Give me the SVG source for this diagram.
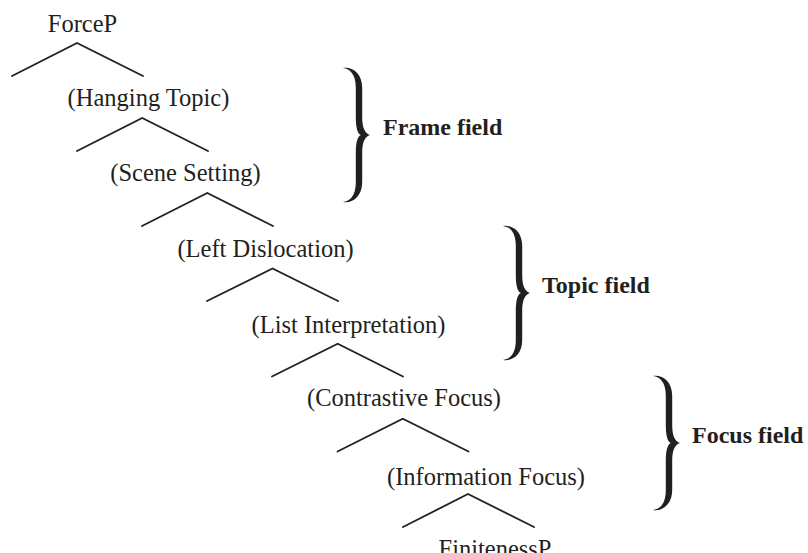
<svg xmlns="http://www.w3.org/2000/svg" width="808" height="553" viewBox="0 0 808 553">
<style>
.lbl{font-family:"Liberation Serif","Times New Roman",serif;font-size:24.5px;fill:#231f20;text-anchor:middle}
.fld{font-family:"Liberation Serif","Times New Roman",serif;font-size:24px;font-weight:bold;fill:#231f20}
.br{stroke:#231f20;stroke-width:1.8;fill:none;stroke-linecap:round;stroke-linejoin:miter}
.brace{fill:#231f20}
</style>
<defs>
<path id="brace" class="brace" d="M0,0 C9,-1.5 19.2,5 19.2,20 L19.2,49 C19.2,60 22,65.5 27,67 C22,68.5 19.2,74 19.2,85 L19.2,114 C19.2,129 9,135.5 0,134 C7,133 12.8,128 12.8,114 L12.8,85 C12.8,73 15,68 18,67 C15,66 12.8,61 12.8,49 L12.8,20 C12.8,6 7,1 0,0 Z"/>
</defs>
<rect width="808" height="553" fill="#ffffff"/>
<g id="connectors">
<polyline class="br" points="12,76 77,43 143,76"/>
<polyline class="br" points="77,151 142.2,118 208,151"/>
<polyline class="br" points="142,226 207.3,193 273,226"/>
<polyline class="br" points="207,301 272.5,268.5 338,301"/>
<polyline class="br" points="272,376.5 337.7,343.7 403,376.5"/>
<polyline class="br" points="337.5,451.5 402.8,418.8 468.5,451.5"/>
<polyline class="br" points="403,527 468,494 534,527"/>
</g>
<g id="n-forcep"><text class="lbl" x="82.5" y="32">ForceP</text></g>
<g id="n-hanging"><text class="lbl" x="148.5" y="106">(Hanging Topic)</text></g>
<g id="n-scene"><text class="lbl" x="185.5" y="181">(Scene Setting)</text></g>
<g id="n-leftdis"><text class="lbl" x="265.5" y="256.7">(Left Dislocation)</text></g>
<g id="n-list"><text class="lbl" x="348.5" y="333">(List Interpretation)</text></g>
<g id="n-contrast"><text class="lbl" x="404" y="406">(Contrastive Focus)</text></g>
<g id="n-info"><text class="lbl" x="486" y="485">(Information Focus)</text></g>
<g id="n-finite"><text class="lbl" x="495" y="557">FinitenessP</text></g>
<g id="frame-field">
<use href="#brace" transform="translate(343,68)"/>
<text class="fld" x="383" y="135">Frame field</text>
</g>
<g id="topic-field">
<use href="#brace" transform="translate(503,226)"/>
<text class="fld" x="542" y="293">Topic field</text>
</g>
<g id="focus-field">
<use href="#brace" transform="translate(653,376)"/>
<text class="fld" x="692" y="443">Focus field</text>
</g>
</svg>
